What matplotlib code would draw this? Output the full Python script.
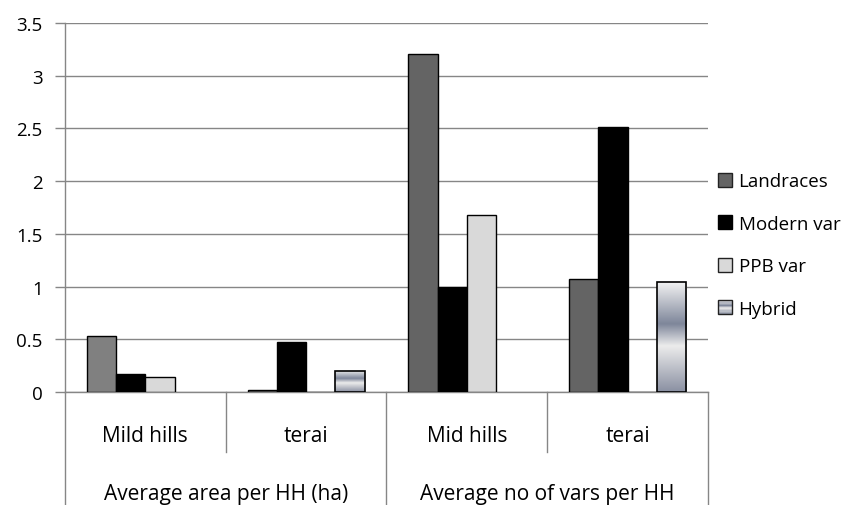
import matplotlib
matplotlib.use("Agg")
import matplotlib.pyplot as plt
import matplotlib.transforms as mtransforms
from matplotlib.colors import LinearSegmentedColormap
from matplotlib.legend_handler import HandlerPatch
from matplotlib.patches import Patch, Rectangle
import numpy as np

plt.rcParams["font.family"] = ["Open Sans", "DejaVu Sans"]
FS = 15
TICK_FS = 13.5
LEG_FS = 13.5

# data
sub_labels = ["Mild hills", "terai", "Mid hills", "terai"]
group_labels = ["Average area per HH (ha)", "Average no of vars per HH"]
series_names = ["Landraces", "Modern var", "PPB var", "Hybrid"]
landraces = [0.53, 0.02, 3.21, 1.07]
modern_var = [0.17, 0.47, 1.00, 2.51]
ppb_var = [0.14, 0.0, 1.68, 0.0]
hybrid = [0.0, 0.20, 0.0, 1.04]
y_ticks = [0, 0.5, 1, 1.5, 2, 2.5, 3, 3.5]

series_values = [landraces, modern_var, ppb_var, hybrid]
series_colors = ["#646464", "#000000", "#d9d9d9", None]
grid_color = "#868686"

# metallic gradient used for the Hybrid bars (top -> bottom)
metal_cmap = LinearSegmentedColormap.from_list(
    "metal",
    [(0.0, "#f2f2f2"), (0.38, "#7e869a"), (0.58, "#ececec"), (1.0, "#8a90a2")],
)


class HandlerMetal(HandlerPatch):
    def create_artists(self, legend, orig_handle, xdescent, ydescent,
                       width, height, fontsize, trans):
        n = 12
        artists = []
        for k in range(n):
            c = metal_cmap((k + 0.5) / n)
            y = -ydescent + height * (1 - (k + 1) / n)
            artists.append(Rectangle((-xdescent, y), width, height / n,
                                     facecolor=c, edgecolor="none", transform=trans))
        artists.append(Rectangle((-xdescent, -ydescent), width, height,
                                 facecolor="none", edgecolor="#222222",
                                 linewidth=1.0, transform=trans))
        return artists


fig = plt.figure(figsize=(8.56, 5.06), dpi=100)
ax = fig.add_axes([65 / 856, 1 - 393 / 506, (708 - 65) / 856, (393 - 24) / 506])

x = np.arange(len(sub_labels))
width = 1 / 5.5

for i, vals in enumerate(series_values):
    offs = x + (i - 1.5) * width
    if series_colors[i] is not None:
        colors = [series_colors[i]] * len(vals)
        if i == 0:
            colors[0] = "#808080"
        ax.bar(offs, vals, width, color=colors, edgecolor="black", linewidth=1.0, zorder=3)
    else:
        bars = ax.bar(offs, vals, width, facecolor="none", edgecolor="black",
                      linewidth=1.2, zorder=4)
        grad = np.linspace(0, 1, 256).reshape(-1, 1)
        for b, v in zip(bars, vals):
            if v <= 0:
                b.set_visible(False)
                continue
            im = ax.imshow(grad, cmap=metal_cmap, aspect="auto",
                           extent=[b.get_x(), b.get_x() + b.get_width(), 0, b.get_height()],
                           origin="upper", zorder=3)
            im.set_clip_path(b)

ax.set_xlim(-0.5, len(sub_labels) - 0.5)
ax.set_ylim(0, 3.5)
ax.set_yticks(y_ticks)
ax.set_yticklabels([f"{t:g}" for t in y_ticks])
ax.yaxis.grid(True, color=grid_color, linewidth=1.0, zorder=0)
ax.set_axisbelow(True)
ax.tick_params(axis="y", length=7, width=1.0, color=grid_color, pad=9, labelsize=TICK_FS)
ax.set_xticks([])
for s in ["top", "right"]:
    ax.spines[s].set_visible(False)
for s in ["left", "bottom"]:
    ax.spines[s].set_color(grid_color)
    ax.spines[s].set_linewidth(1.0)

# two-level category axis
trans = mtransforms.blended_transform_factory(ax.transData, ax.transAxes)
for xi, lab in zip(x, sub_labels):
    ax.text(xi, -0.133, lab, transform=trans, ha="center", va="baseline", fontsize=FS)
for g, lab in enumerate(group_labels):
    ax.text(2 * g + 0.5, -0.289, lab, transform=trans, ha="center", va="baseline", fontsize=FS)
for b in [0.5, 2.5]:
    ax.plot([b, b], [0, -0.163], transform=trans, color=grid_color, lw=1.0, clip_on=False)
for b in [-0.5, 1.5, 3.5]:
    ax.plot([b, b], [0, -0.31], transform=trans, color=grid_color, lw=1.0, clip_on=False)

handles = [
    Patch(facecolor="#646464", edgecolor="#222222", linewidth=1.0),
    Patch(facecolor="#000000", edgecolor="#000000", linewidth=1.0),
    Patch(facecolor="#d9d9d9", edgecolor="#222222", linewidth=1.0),
    Patch(facecolor="#a0a4b0", edgecolor="#222222", linewidth=1.0),
]
fig.legend(handles, series_names, loc="center left",
           bbox_to_anchor=(718 / 856, 1 - 246 / 506), frameon=False,
           fontsize=LEG_FS, handlelength=0.75, handleheight=0.75,
           handletextpad=0.35, labelspacing=1.3, borderpad=0, borderaxespad=0,
           handler_map={handles[3]: HandlerMetal()})

fig.savefig("out.png", dpi=100)
